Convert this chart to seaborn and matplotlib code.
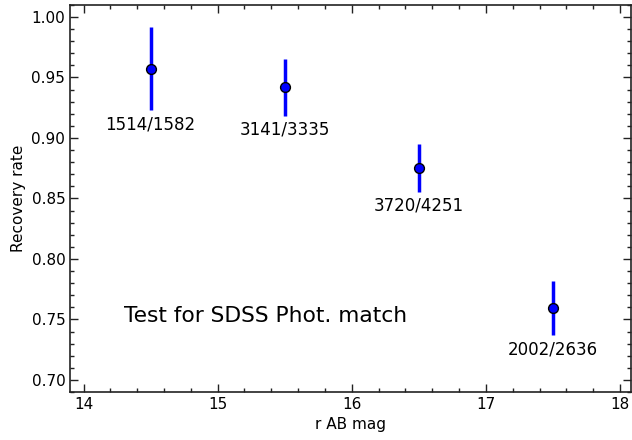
import numpy as np
import pandas as pd
import matplotlib
matplotlib.use("Agg")
import matplotlib.pyplot as plt
import seaborn as sns
from matplotlib.ticker import MultipleLocator

# values
r_mag = [14.5, 15.5, 16.5, 17.5]
n_matched = [1514, 3141, 3720, 2002]
n_total = [1582, 3335, 4251, 2636]
err_lo = [0.9227, 0.9183, 0.8555, 0.7368]
err_hi = [0.9913, 0.9649, 0.8946, 0.7817]

df = pd.DataFrame({"mag": r_mag, "matched": n_matched, "total": n_total,
                   "lo": err_lo, "hi": err_hi})
df["rate"] = df["matched"] / df["total"]

sns.set_style("ticks")
plt.rcParams["font.family"] = ["DejaVu Sans"]
plt.rcParams["text.color"] = "black"
plt.rcParams["axes.labelcolor"] = "black"
plt.rcParams["xtick.color"] = "black"
plt.rcParams["ytick.color"] = "black"

fig = plt.figure(figsize=(6.32, 4.40), dpi=100)
ax = fig.add_axes([0.111, 0.109, 0.887, 0.880])

# error bars
ax.vlines(df["mag"], df["lo"], df["hi"], color="#0000ff", lw=2.5, zorder=2)
sns.scatterplot(data=df, x="mag", y="rate", ax=ax, color="#0000ff",
                edgecolor="black", linewidth=1, s=50, zorder=3, legend=False)

for m, k, n, lo in zip(r_mag, n_matched, n_total, err_lo):
    ax.text(m, lo - 0.004, f"{k}/{n}", ha="center", va="top", fontsize=12)

ax.text(14.3, 0.7525, "Test for SDSS Phot. match", fontsize=15.7,
        ha="left", va="center")

ax.set_xlim(13.9, 18.08)
ax.set_ylim(0.69, 1.01)
ax.xaxis.set_major_locator(MultipleLocator(1))
ax.xaxis.set_minor_locator(MultipleLocator(0.2))
ax.yaxis.set_major_locator(MultipleLocator(0.05))
ax.yaxis.set_minor_locator(MultipleLocator(0.01))
ax.set_yticklabels([f"{v:.2f}" for v in ax.get_yticks()])
ax.tick_params(which="both", direction="in", top=True, right=True,
               labelsize=11, color="#222222")
ax.tick_params(which="major", length=6, width=1)
ax.tick_params(which="minor", length=3, width=1)
for sp in ax.spines.values():
    sp.set_visible(True)
    sp.set_color("#222222")
    sp.set_linewidth(1.2)

ax.set_xlabel("r AB mag", fontsize=11)
ax.set_ylabel("Recovery rate", fontsize=11)

fig.savefig("out.png", dpi=100)
